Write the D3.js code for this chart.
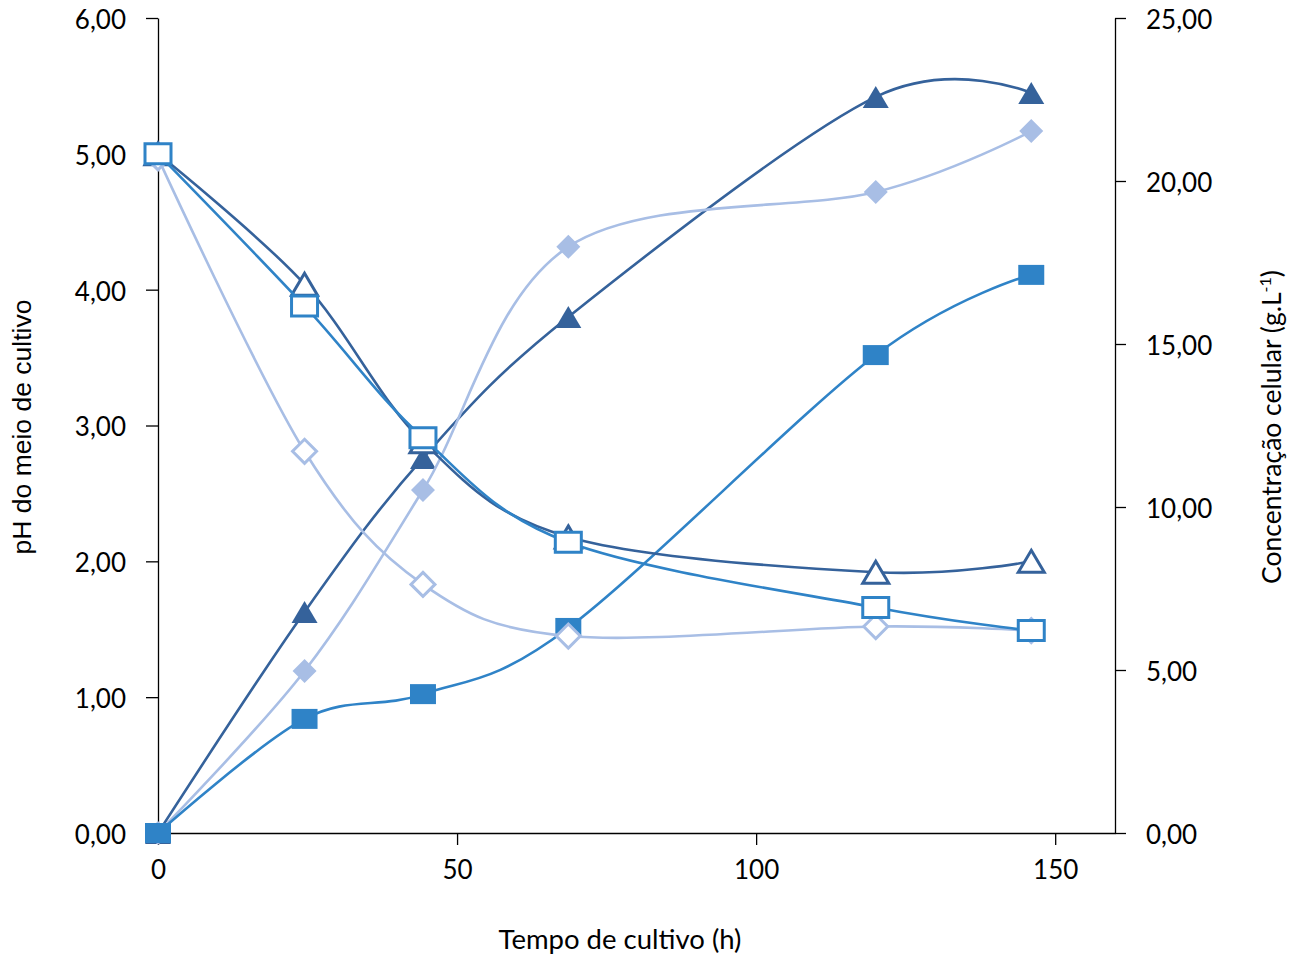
<!DOCTYPE html>
<html>
<head>
<meta charset="utf-8">
<script src="https://cdn.jsdelivr.net/npm/d3@7"></script>
<style>
  body { margin: 0; background: #fff; }
  .axis path, .axis line { stroke: #000; stroke-width: 1.3; }
  .tick text { font-family: Lato, "Open Sans", sans-serif; font-size: 26px; fill: #000; }
</style>
</head>
<body>
<div class="js-chart"></div>
<script>
// Data.
const tempo = [0, 24.5, 44.3, 68.6, 120, 146];

// pH (left axis), hollow markers
const phTriangulo = [5.0, 4.04, 2.88, 2.18, 1.92, 2.0];
const phLosango = [4.97, 2.81, 1.83, 1.45, 1.52, 1.49];
const phQuadrado = [5.0, 3.88, 2.91, 2.14, 1.66, 1.49];

// Concentracao celular (right axis), filled markers
const concTriangulo = [0, 6.78, 11.5, 15.83, 22.58, 22.7];
const concLosango = [0, 4.97, 10.52, 17.98, 19.66, 21.53];
const concQuadrado = [0, 3.5, 4.26, 6.29, 14.66, 17.12];

const xTicks = [0, 50, 100, 150];
const phTicks = [0, 1, 2, 3, 4, 5, 6];
const concTicks = [0, 5, 10, 15, 20, 25];

const WIDTH = 1299;
const HEIGHT = 958;
const margin = {top: 18, right: 184, bottom: 125, left: 158};
const width = WIDTH - margin.left - margin.right;
const height = HEIGHT - margin.top - margin.bottom;

const corEscura = '#35629b';
const corMedia = '#2f83c7';
const corClara = '#a8bee5';

const fmt = function(d) { return d.toFixed(2).replace('.', ','); };

const svg = d3.select('.js-chart').append('svg')
  .attr('width', WIDTH)
  .attr('height', HEIGHT);

const chart = svg.append('g')
  .attr('transform', 'translate(' + margin.left + ',' + margin.top + ')');

// Scales
const xScale = d3.scaleLinear().domain([0, 160]).range([0, width]);
const yPh = d3.scaleLinear().domain([0, 6]).range([height, 0]);
const yConc = d3.scaleLinear().domain([0, 25]).range([height, 0]);

// Axes
chart.append('g')
  .attr('class', 'x axis')
  .attr('transform', 'translate(0,' + height + ')')
  .call(d3.axisBottom(xScale).tickValues(xTicks).tickSize(12).tickSizeOuter(0).tickPadding(16));

chart.append('g')
  .attr('class', 'y axis')
  .call(d3.axisLeft(yPh).tickValues(phTicks).tickFormat(fmt).tickSize(12).tickSizeOuter(0).tickPadding(20));

chart.append('g')
  .attr('class', 'y2 axis')
  .attr('transform', 'translate(' + width + ',0)')
  .call(d3.axisRight(yConc).tickValues(concTicks).tickFormat(fmt).tickSize(11).tickSizeOuter(0).tickPadding(20));

chart.selectAll('.axis .domain').attr('stroke', '#000');
chart.selectAll('.y .tick text, .y2 .tick text').attr('dy', '0.4em');

// Axis titles
svg.append('text')
  .attr('x', 620).attr('y', 949)
  .attr('text-anchor', 'middle')
  .style('font-family', 'Lato, sans-serif')
  .style('font-size', '27.5px')
  .text('Tempo de cultivo (h)');

svg.append('text')
  .attr('transform', 'translate(31,427) rotate(-90)')
  .attr('text-anchor', 'middle')
  .style('font-family', '"Liberation Sans", Arial, sans-serif')
  .style('font-size', '26.5px')
  .text('pH do meio de cultivo');

const tituloDir = svg.append('text')
  .attr('transform', 'translate(1281,427) rotate(-90)')
  .attr('text-anchor', 'middle')
  .style('font-family', 'Lato, sans-serif')
  .style('font-size', '26.5px');
tituloDir.append('tspan').text('Concentração celular (g.L');
tituloDir.append('tspan').attr('dy', -10).style('font-size', '16px').text('-1');
tituloDir.append('tspan').attr('dy', 10).text(')');

// Markers
const marcador = function(tipo) {
  if (tipo === 'triangulo') return 'M0,-11L13,11L-13,11Z';
  if (tipo === 'quadrado') return 'M-13,-10L13,-10L13,10L-13,10Z';
  return 'M0,-12L12,0L0,12L-12,0Z';
};

const renderSerie = function(valores, yScale, cor, tipo, cheio) {
  const pontos = tempo.map(function(t, i) { return {x: t, y: valores[i]}; });

  const line = d3.line()
    .x(function(d) { return xScale(d.x); })
    .y(function(d) { return yScale(d.y); })
    .curve(d3.curveCardinal.tension(0));

  chart.append('path')
    .datum(pontos)
    .attr('fill', 'none')
    .attr('stroke', cor)
    .attr('stroke-width', 2.6)
    .attr('d', line);

  chart.append('g').selectAll('path')
    .data(pontos)
    .join('path')
    .attr('transform', function(d) { return 'translate(' + xScale(d.x) + ',' + yScale(d.y) + ')'; })
    .attr('d', marcador(tipo))
    .attr('fill', cheio ? cor : '#fff')
    .attr('stroke', cor)
    .attr('stroke-width', cheio ? 0 : 3);
};

renderSerie(concTriangulo, yConc, corEscura, 'triangulo', true);
renderSerie(concLosango, yConc, corClara, 'losango', true);
renderSerie(concQuadrado, yConc, corMedia, 'quadrado', true);
renderSerie(phTriangulo, yPh, corEscura, 'triangulo', false);
renderSerie(phLosango, yPh, corClara, 'losango', false);
renderSerie(phQuadrado, yPh, corMedia, 'quadrado', false);
</script>
</body>
</html>
